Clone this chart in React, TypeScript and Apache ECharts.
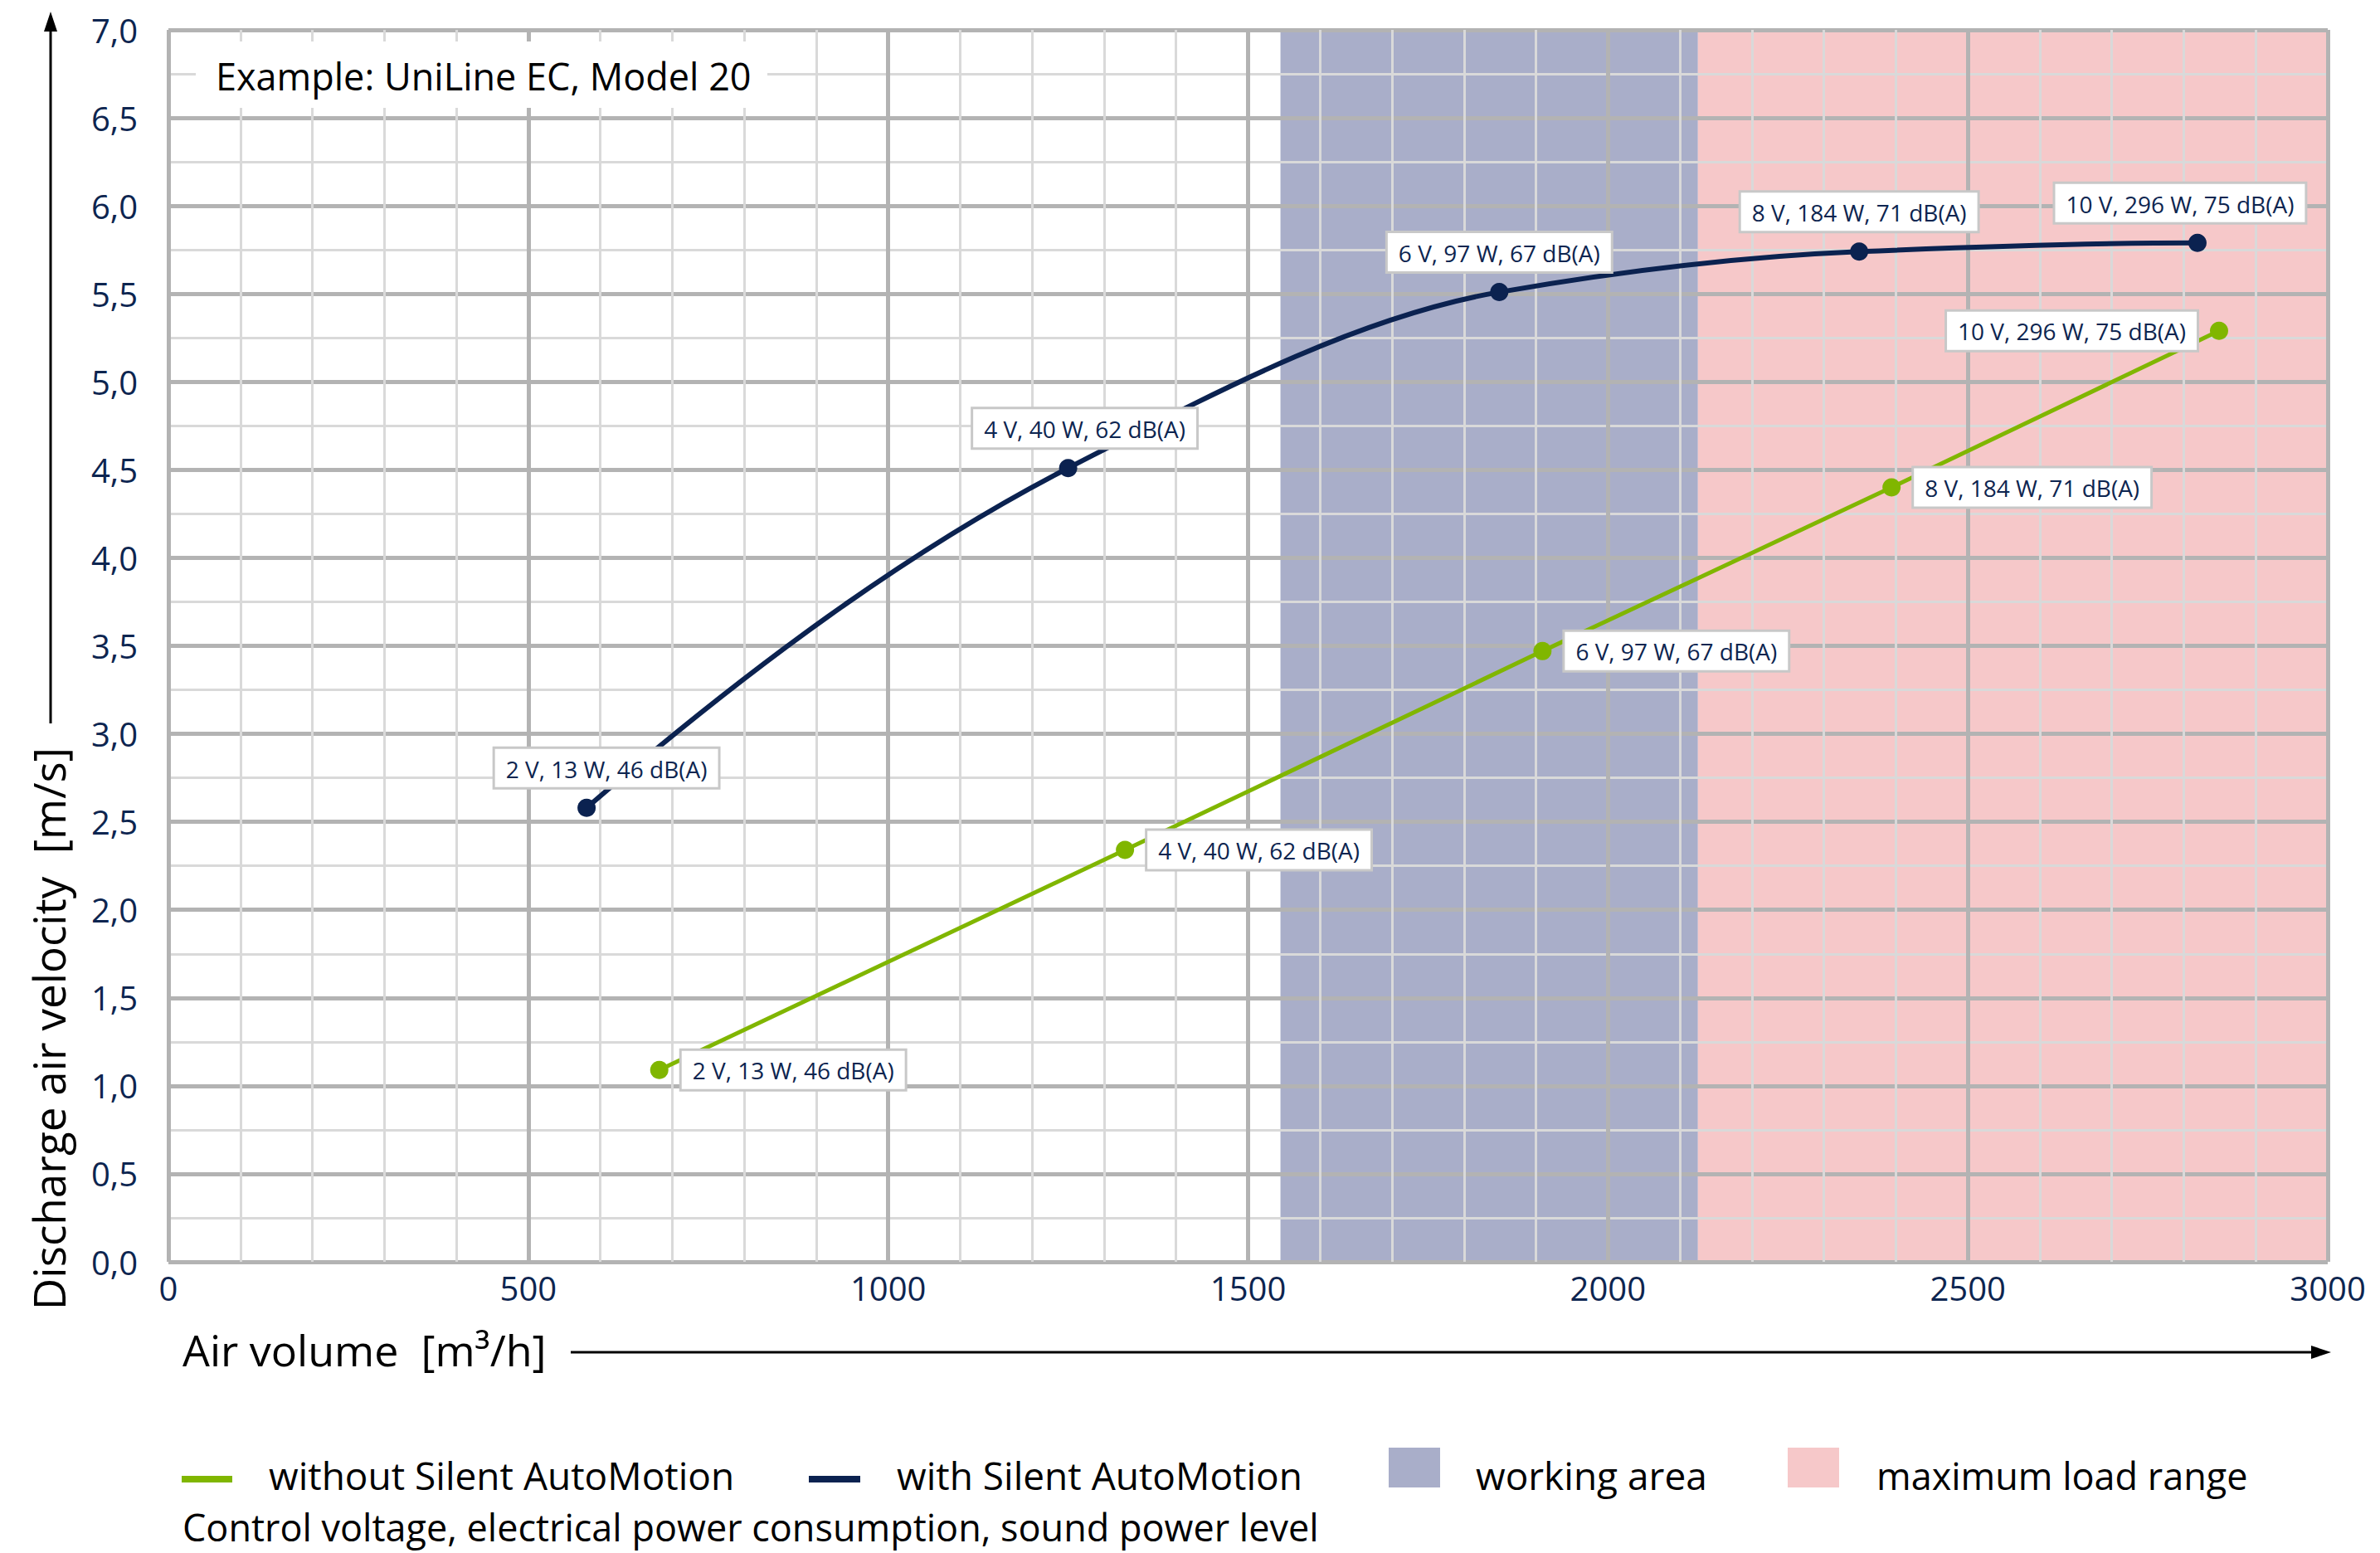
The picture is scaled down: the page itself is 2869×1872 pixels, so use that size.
import React, { useEffect, useRef } from "react";
import * as echarts from "echarts";

const withX = [581, 1250, 1849, 2349, 2819];
const withY = [2.58, 4.51, 5.51, 5.74, 5.79];
const withoutX = [682, 1329, 1909, 2394, 2849];
const withoutY = [1.09, 2.34, 3.47, 4.4, 5.29];
const pointLabels = [
  "2 V, 13 W, 46 dB(A)",
  "4 V, 40 W, 62 dB(A)",
  "6 V, 97 W, 67 dB(A)",
  "8 V, 184 W, 71 dB(A)",
  "10 V, 296 W, 75 dB(A)",
];
const areaStarts = [1545, 2125];
const areaEnds = [2125, 3000];
const areaNames = ["working area", "maximum load range"];
const xTicks = { min: 0, max: 3000, interval: 500 };
const yTicks = { min: 0, max: 7, interval: 0.5 };

const NAVY = "#0b2250";
const GREEN = "#80b600";
const WORK = "#a9aec9";
const PINK = "#f6c8c9";
const AREA_COLORS = [WORK, PINK];
const LABEL_COLOR = "#0d2550";
const FONT = "Open Sans";

const withLabelOffsets = [24, 20, 0, 0, -21];
const withoutLabelPos = ["right", "right", "right", "right", "left"];

// monotone cubic (PCHIP) tangents in pixel space
function pchipTangents(xs: number[], ys: number[]) {
  const n = xs.length;
  const h: number[] = [];
  const d: number[] = [];
  for (let i = 0; i < n - 1; i++) {
    h.push(xs[i + 1] - xs[i]);
    d.push((ys[i + 1] - ys[i]) / h[i]);
  }
  const m: number[] = new Array(n).fill(0);
  for (let k = 1; k < n - 1; k++) {
    if (d[k - 1] * d[k] <= 0) m[k] = 0;
    else {
      const w1 = 2 * h[k] + h[k - 1];
      const w2 = h[k] + 2 * h[k - 1];
      m[k] = (w1 + w2) / (w1 / d[k - 1] + w2 / d[k]);
    }
  }
  const endSlope = (h0: number, h1: number, d0: number, d1: number) => {
    let s = ((2 * h0 + h1) * d0 - h0 * d1) / (h0 + h1);
    if (Math.sign(s) !== Math.sign(d0)) s = 0;
    else if (Math.sign(d0) !== Math.sign(d1) && Math.abs(s) > Math.abs(3 * d0)) s = 3 * d0;
    return s;
  };
  m[0] = endSlope(h[0], h[1], d[0], d[1]);
  m[n - 1] = endSlope(h[n - 2], h[n - 3], d[n - 2], d[n - 3]);
  return m;
}

export default function App() {
  const ref = useRef<HTMLDivElement>(null);
  useEffect(() => {
    if (!ref.current) return;
    const chart = echarts.init(ref.current, null, { renderer: "svg" });
    const labelBase = {
      show: true,
      backgroundColor: "#ffffff",
      borderColor: "#c8c8c8",
      borderWidth: 3,
      padding: [10, 13, 8, 13],
      color: LABEL_COLOR,
      fontSize: 28,
      fontFamily: FONT,
      formatter: (p: any) => pointLabels[p.dataIndex],
    };
    const withData = withX.map((x, i) => ({
      value: [x, withY[i]],
      label: { position: "top", distance: 14, offset: [withLabelOffsets[i], 0] },
    }));
    const withoutData = withoutX.map((x, i) => ({
      value: [x, withoutY[i]],
      label: { position: withoutLabelPos[i], distance: 16 },
    }));
    const legendY = 1778;
    const txt = (text: string, x: number, y: number, size: number, extra: any = {}) => ({
      type: "text",
      z: 101,
      x,
      y,
      style: { text, fontSize: size, fontFamily: FONT, fill: "#000", verticalAlign: "middle", align: "left", ...extra },
    });
    chart.setOption({
      animation: false,
      textStyle: { fontFamily: FONT },
      grid: { left: 203, right: 63, top: 36, bottom: 351 },
      xAxis: {
        type: "value",
        ...xTicks,
        z: 1,
        axisLine: { show: false },
        axisTick: { show: false },
        axisLabel: {
          fontSize: 40,
          color: LABEL_COLOR,
          margin: 11,
          fontFamily: FONT,
          formatter: (v: number) => String(v),
        },
        splitLine: { show: true, lineStyle: { color: "#b3b3b3", width: 5 } },
        minorTick: { show: false, splitNumber: 5 },
        minorSplitLine: { show: true, lineStyle: { color: "#d9d9d9", width: 3 } },
      },
      yAxis: {
        type: "value",
        ...yTicks,
        z: 1,
        axisLine: { show: false },
        axisTick: { show: false },
        axisLabel: {
          fontSize: 40,
          color: LABEL_COLOR,
          margin: 37,
          fontFamily: FONT,
          formatter: (v: number) => v.toFixed(1).replace(".", ","),
        },
        splitLine: { show: true, lineStyle: { color: "#b3b3b3", width: 5 } },
        minorTick: { show: false, splitNumber: 2 },
        minorSplitLine: { show: true, lineStyle: { color: "#d9d9d9", width: 3 } },
      },
      series: [
        {
          type: "custom",
          name: "areas",
          z: 0,
          silent: true,
          data: areaStarts.map((s, i) => [s, areaEnds[i], areaNames[i]]),
          encode: { x: [0, 1] },
          renderItem: (params: any, api: any) => {
            const p0 = api.coord([api.value(0), yTicks.max]);
            const p1 = api.coord([api.value(1), yTicks.min]);
            return {
              type: "rect",
              shape: { x: p0[0], y: p0[1], width: p1[0] - p0[0], height: p1[1] - p0[1] },
              style: { fill: AREA_COLORS[params.dataIndex] },
            };
          },
        },
        {
          type: "custom",
          name: "with curve",
          z: 3,
          silent: true,
          data: withX.map((x, i) => [x, withY[i]]),
          encode: { x: 0, y: 1 },
          renderItem: (params: any, api: any) => {
            if (params.dataIndex !== 0) return null;
            const pts = withX.map((x, i) => api.coord([x, withY[i]]));
            const xs = pts.map((p: number[]) => p[0]);
            const ys = pts.map((p: number[]) => p[1]);
            const m = pchipTangents(xs, ys);
            const children: any[] = [];
            for (let i = 0; i < xs.length - 1; i++) {
              const dx = xs[i + 1] - xs[i];
              children.push({
                type: "bezierCurve",
                shape: {
                  x1: xs[i],
                  y1: ys[i],
                  x2: xs[i + 1],
                  y2: ys[i + 1],
                  cpx1: xs[i] + dx / 3,
                  cpy1: ys[i] + (m[i] * dx) / 3,
                  cpx2: xs[i + 1] - dx / 3,
                  cpy2: ys[i + 1] - (m[i + 1] * dx) / 3,
                },
                style: { stroke: NAVY, lineWidth: 6, fill: null },
              });
            }
            return { type: "group", children };
          },
        },
        {
          type: "line",
          name: "without Silent AutoMotion",
          z: 4,
          data: withoutData,
          symbol: "circle",
          symbolSize: 22,
          lineStyle: { color: GREEN, width: 5 },
          itemStyle: { color: GREEN },
          label: labelBase,
        },
        {
          type: "line",
          name: "with Silent AutoMotion",
          z: 5,
          data: withData,
          symbol: "circle",
          symbolSize: 22,
          lineStyle: { color: NAVY, width: 0, opacity: 0 },
          itemStyle: { color: NAVY },
          label: labelBase,
        },
      ],
      graphic: [
        { type: "rect", z: 100, shape: { x: 236, y: 50, width: 689, height: 80 }, style: { fill: "#ffffff" } },
        txt("Example: UniLine EC, Model 20", 260, 91, 45),
        // y axis title + arrow
        {
          type: "text",
          z: 101,
          x: 58,
          y: 1240,
          rotation: Math.PI / 2,
          style: { text: "Discharge air velocity  [m/s]", fontSize: 53, fontFamily: FONT, fill: "#000", align: "center", verticalAlign: "middle" },
        },
        { type: "line", z: 101, shape: { x1: 61, y1: 872, x2: 61, y2: 32 }, style: { stroke: "#000", lineWidth: 3 } },
        { type: "polygon", z: 101, shape: { points: [[61, 14], [53, 38], [69, 38]] }, style: { fill: "#000" } },
        // x axis title + arrow
        txt("Air volume  [m³/h]", 220, 1626, 52),
        { type: "line", z: 101, shape: { x1: 688, y1: 1630, x2: 2792, y2: 1630 }, style: { stroke: "#000", lineWidth: 3 } },
        { type: "polygon", z: 101, shape: { points: [[2810, 1630], [2786, 1622], [2786, 1638]] }, style: { fill: "#000" } },
        // legend
        { type: "rect", z: 101, shape: { x: 219, y: 1779, width: 61, height: 8 }, style: { fill: GREEN } },
        txt("without Silent AutoMotion", 324, legendY, 46),
        { type: "rect", z: 101, shape: { x: 975, y: 1779, width: 62, height: 8 }, style: { fill: NAVY } },
        txt("with Silent AutoMotion", 1081, legendY, 46),
        { type: "rect", z: 101, shape: { x: 1674, y: 1745, width: 62, height: 48 }, style: { fill: WORK } },
        txt("working area", 1779, legendY, 46),
        { type: "rect", z: 101, shape: { x: 2155, y: 1745, width: 62, height: 48 }, style: { fill: PINK } },
        txt("maximum load range", 2262, legendY, 45),
        txt("Control voltage, electrical power consumption, sound power level", 220, 1840, 45, { lineHeight: 44 }),
      ],
    });
    return () => chart.dispose();
  }, []);
  return (
    <div
      ref={ref}
      style={{ position: "fixed", left: 0, top: 0, width: 2869, height: 1872, background: "#fff" }}
    />
  );
}
